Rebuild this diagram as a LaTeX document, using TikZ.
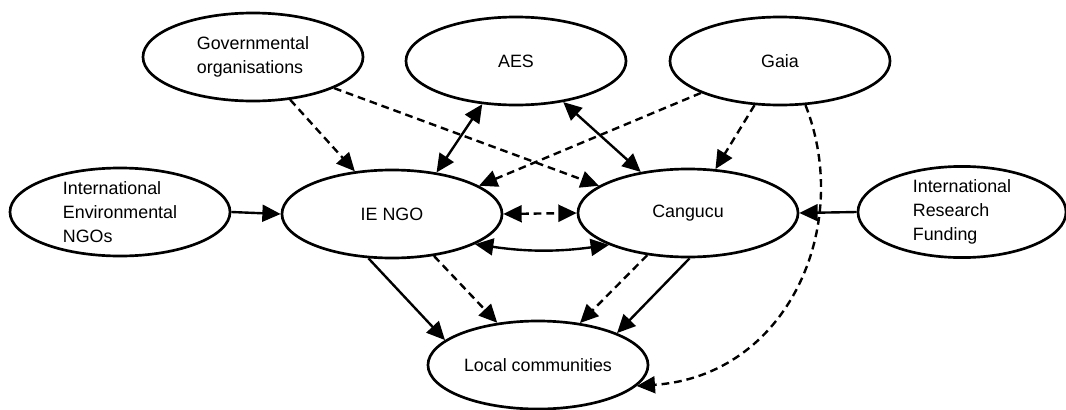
\documentclass[tikz,border=0pt]{standalone}
\usepackage{fontspec}
\setmainfont{Liberation Sans}
\usepackage{tikz}
\usetikzlibrary{shapes.geometric}
\usetikzlibrary{arrows.meta}

\begin{document}
\begin{tikzpicture}[x=0.025cm,y=-0.025cm,
            actor/.style={draw,ellipse,line width=1.9pt,minimum width=5.5cm,minimum height=2.2cm,inner sep=0pt,align=left,font=\fontsize{12.7}{17}\selectfont},
            tie/.style={line width=1.7pt,-{Triangle[length=13pt,width=12pt]}},
            twotie/.style={tie,{Triangle[length=13pt,width=12pt]}-{Triangle[length=13pt,width=12pt]}},
            softtie/.style={tie,dash pattern=on 5.5pt off 3.5pt}]
            \useasboundingbox (0,0) rectangle (1066,409);

            \node[actor] (gov) at (253,57) {Governmental\\organisations};
            \node[actor] (aes) at (516,61) {AES};
            \node[actor] (gaia) at (780,61) {Gaia};
            \node[actor] (ienv) at (120,212) {International\\Environmental\\NGOs};
            \node[actor] (iengo) at (392,214) {IE NGO};
            \node[actor] (cangucu) at (688,213) {Cangucu};
            \node[actor,minimum width=5.2cm] (irf) at (962,212) {International\\Research\\Funding};
            \node[actor] (local) at (538,365) {Local communities};

            \draw[softtie] (gov.-49) -- (iengo.131);
            \draw[softtie] (gov.-21) -- (cangucu.163);
            \draw[twotie] (aes.-128) -- (iengo.43);
            \draw[twotie] (aes.-41) -- (cangucu.139);
            \draw[softtie] (gaia.202) -- (iengo.18);
            \draw[softtie] (gaia.-120) -- (cangucu.58);
            \draw[softtie] (gaia.-60) .. controls +(48,122) and +(150,-10) .. (local.-12);

            \draw[tie] (ienv.east) -- (iengo.west);
            \draw[tie] (irf.west) -- (cangucu.east);
            \draw[twotie,dash pattern=on 5.5pt off 3.5pt] (iengo.east) -- (cangucu.west);
            \draw[twotie] (iengo.-20) to[bend right=8] (cangucu.202);

            \draw[tie] (iengo.-118) -- (local.165);
            \draw[softtie] (iengo.-45) -- (local.134);
            \draw[softtie] (cangucu.-134) -- (local.45);
            \draw[tie] (cangucu.-88) -- (local.22);

        \end{tikzpicture}
\end{document}
